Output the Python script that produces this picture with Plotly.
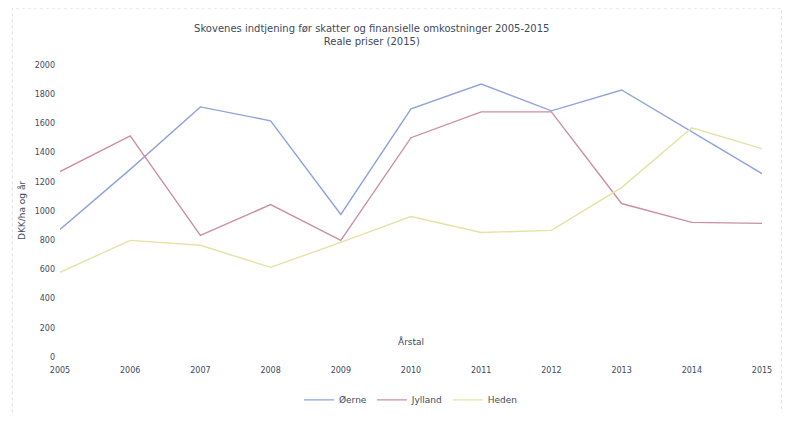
import plotly.graph_objects as go

years = [2005, 2006, 2007, 2008, 2009, 2010, 2011, 2012, 2013, 2014, 2015]
oerne = [874, 1285, 1713, 1618, 976, 1700, 1870, 1686, 1829, 1543, 1256]
jylland = [1270, 1515, 833, 1044, 799, 1502, 1679, 1679, 1051, 922, 915]
heden = [580, 799, 765, 614, 785, 962, 853, 867, 1160, 1570, 1427]

series_names = ["Øerne", "Jylland", "Heden"]
colors = ["#8fa2dc", "#cc8ea4", "#e4e2a4"]
y_ticks = list(range(0, 2001, 200))

title_text = "Skovenes indtjening før skatter og finansielle omkostninger 2005-2015<br>Reale priser (2015)"

fig = go.Figure()
for name, vals, c in zip(series_names, [oerne, jylland, heden], colors):
    fig.add_trace(go.Scatter(x=years, y=vals, mode="lines", name=name,
                             line=dict(color=c, width=1.4)))

font_col = "#3d4a5c"
fig.update_layout(
    width=774, height=405,
    paper_bgcolor="white", plot_bgcolor="white",
    margin=dict(l=52, r=20, t=57, b=56, autoexpand=False),
    font=dict(family="DejaVu Sans", size=9, color=font_col),
    title=dict(text=title_text, x=0.47, xanchor="center", y=0.94, yanchor="top",
               font=dict(size=10, color=font_col)),
    xaxis=dict(range=[2005, 2015], tickvals=years, ticktext=[str(y) for y in years],
               showgrid=False, zeroline=False, showline=False, ticks="",
               tickfont=dict(size=8), ticklabelstandoff=7),
    yaxis=dict(range=[0, 2000], tickvals=y_ticks, showgrid=False, zeroline=False,
               showline=False, ticks="", tickfont=dict(size=8), ticklabelstandoff=4),
    legend=dict(orientation="h", x=0.5, xanchor="center", y=-0.147, yanchor="middle",
                font=dict(size=9), itemwidth=30, tracegroupgap=0),
    showlegend=True,
)
fig.add_annotation(text="DKK/ha og år", xref="paper", yref="paper", x=0, y=0.5,
                   xshift=-45, textangle=-90, showarrow=False,
                   font=dict(size=9, color=font_col))
fig.add_annotation(text="Årstal", xref="paper", yref="paper", x=0.5, y=0,
                   yshift=8, showarrow=False, font=dict(size=9, color=font_col))
fig.add_shape(type="rect", xref="paper", yref="paper", x0=-0.068, x1=1.028,
              y0=-0.195, y1=1.195, line=dict(color="#dddddd", width=1, dash="dot"))

fig.write_html("out.html")
